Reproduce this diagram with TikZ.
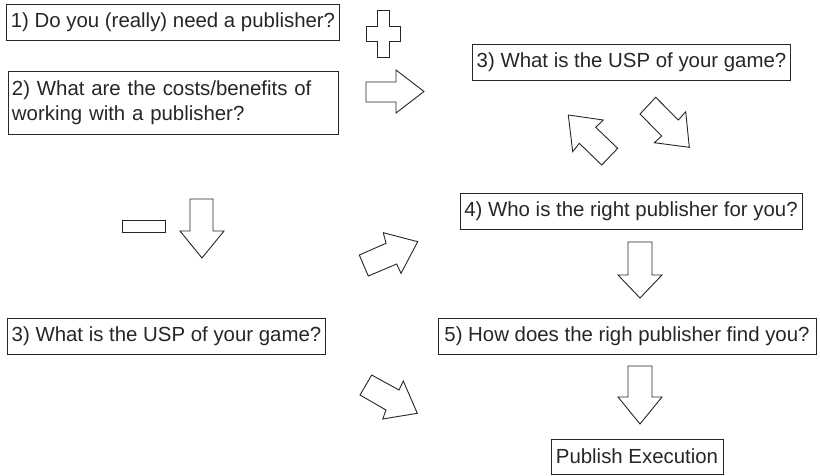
\documentclass[tikz,border=0pt]{standalone}
\usepackage{fontspec}
\setmainfont{Liberation Sans}
\begin{document}
\begin{tikzpicture}[x=1pt,y=-1pt,
  box/.style={draw=black!85, line width=0.9pt, text=black!85, inner xsep=4pt, inner ysep=0pt,
    minimum height=36pt, font=\fontsize{20.4}{25}\selectfont},
  blockarrow/.style={draw=black!85, line width=0.9pt, line join=miter, fill=white}]
\useasboundingbox (0,0) rectangle (820,475);
% boxes
\node[box, minimum width=330pt] (q1) at (173,22) {1) Do you (really) need a publisher?};
\node[box, text width=322pt, align=left, minimum height=63pt] (q2) at (173,102.5) {2) What are the costs/benefits of\\working with a publisher?};
\node[box, minimum width=317pt] (q3a) at (631.5,62) {3) What is the USP of your game?};
\node[box, minimum width=342pt] (q4) at (631,211) {4) Who is the right publisher for you?};
\node[box, minimum width=317pt] (q3b) at (166.5,336) {3) What is the USP of your game?};
\node[box, minimum width=378pt] (q5) at (627,336) {5) How does the righ publisher find you?};
\node[box, minimum width=172pt, minimum height=35pt] (pe) at (637,456.5) {Publish Execution};
% plus sign
\draw[blockarrow] (377,10) -- (389,10) -- (389,26) -- (400,26) -- (400,41) -- (389,41) -- (389,57)
  -- (377,57) -- (377,41) -- (366,41) -- (366,26) -- (377,26) -- cycle;
% right arrow
\draw[blockarrow] (366,82) -- (396,82) -- (396,70) -- (424,91.5) -- (396,113) -- (396,102) -- (366,102) -- cycle;
% up-left arrow
\draw[blockarrow] (568.3,115) -- (603.3,120) -- (595.7,127.3) -- (617.7,148.3) -- (601.7,165)
  -- (579.3,143.3) -- (572.7,151.7) -- cycle;
% down-right arrow (upper)
\draw[blockarrow] (640,114) -- (655.7,97.3) -- (678.3,120) -- (685.7,111.7) -- (689.3,147.3)
  -- (654.3,142.7) -- (661.7,136) -- cycle;
% minus sign
\draw[blockarrow] (122,220) rectangle (165,232);
% down arrow mid-left
\draw[blockarrow] (190,199) -- (213,199) -- (213,231) -- (224,231) -- (202,258) -- (180,231) -- (190,231) -- cycle;
% up-right arrow
\draw[blockarrow] (359.3,255) -- (386,243.3) -- (383.3,232.7) -- (417.7,241.7) -- (401,273.3)
  -- (396.7,264) -- (368.3,276) -- cycle;
% down arrow between 4 and 5
\draw[blockarrow] (628,242) -- (652,242) -- (652,275) -- (662,275) -- (640,298) -- (618,275) -- (628,275) -- cycle;
% down-right arrow (lower)
\draw[blockarrow] (360,395) -- (371.7,375) -- (399,390) -- (403.3,381) -- (417.3,413.3)
  -- (382.7,419) -- (386,410) -- cycle;
% down arrow to execution
\draw[blockarrow] (628,366) -- (652,366) -- (652,397) -- (662,397) -- (640,424) -- (618,397) -- (628,397) -- cycle;
\end{tikzpicture}
\end{document}
